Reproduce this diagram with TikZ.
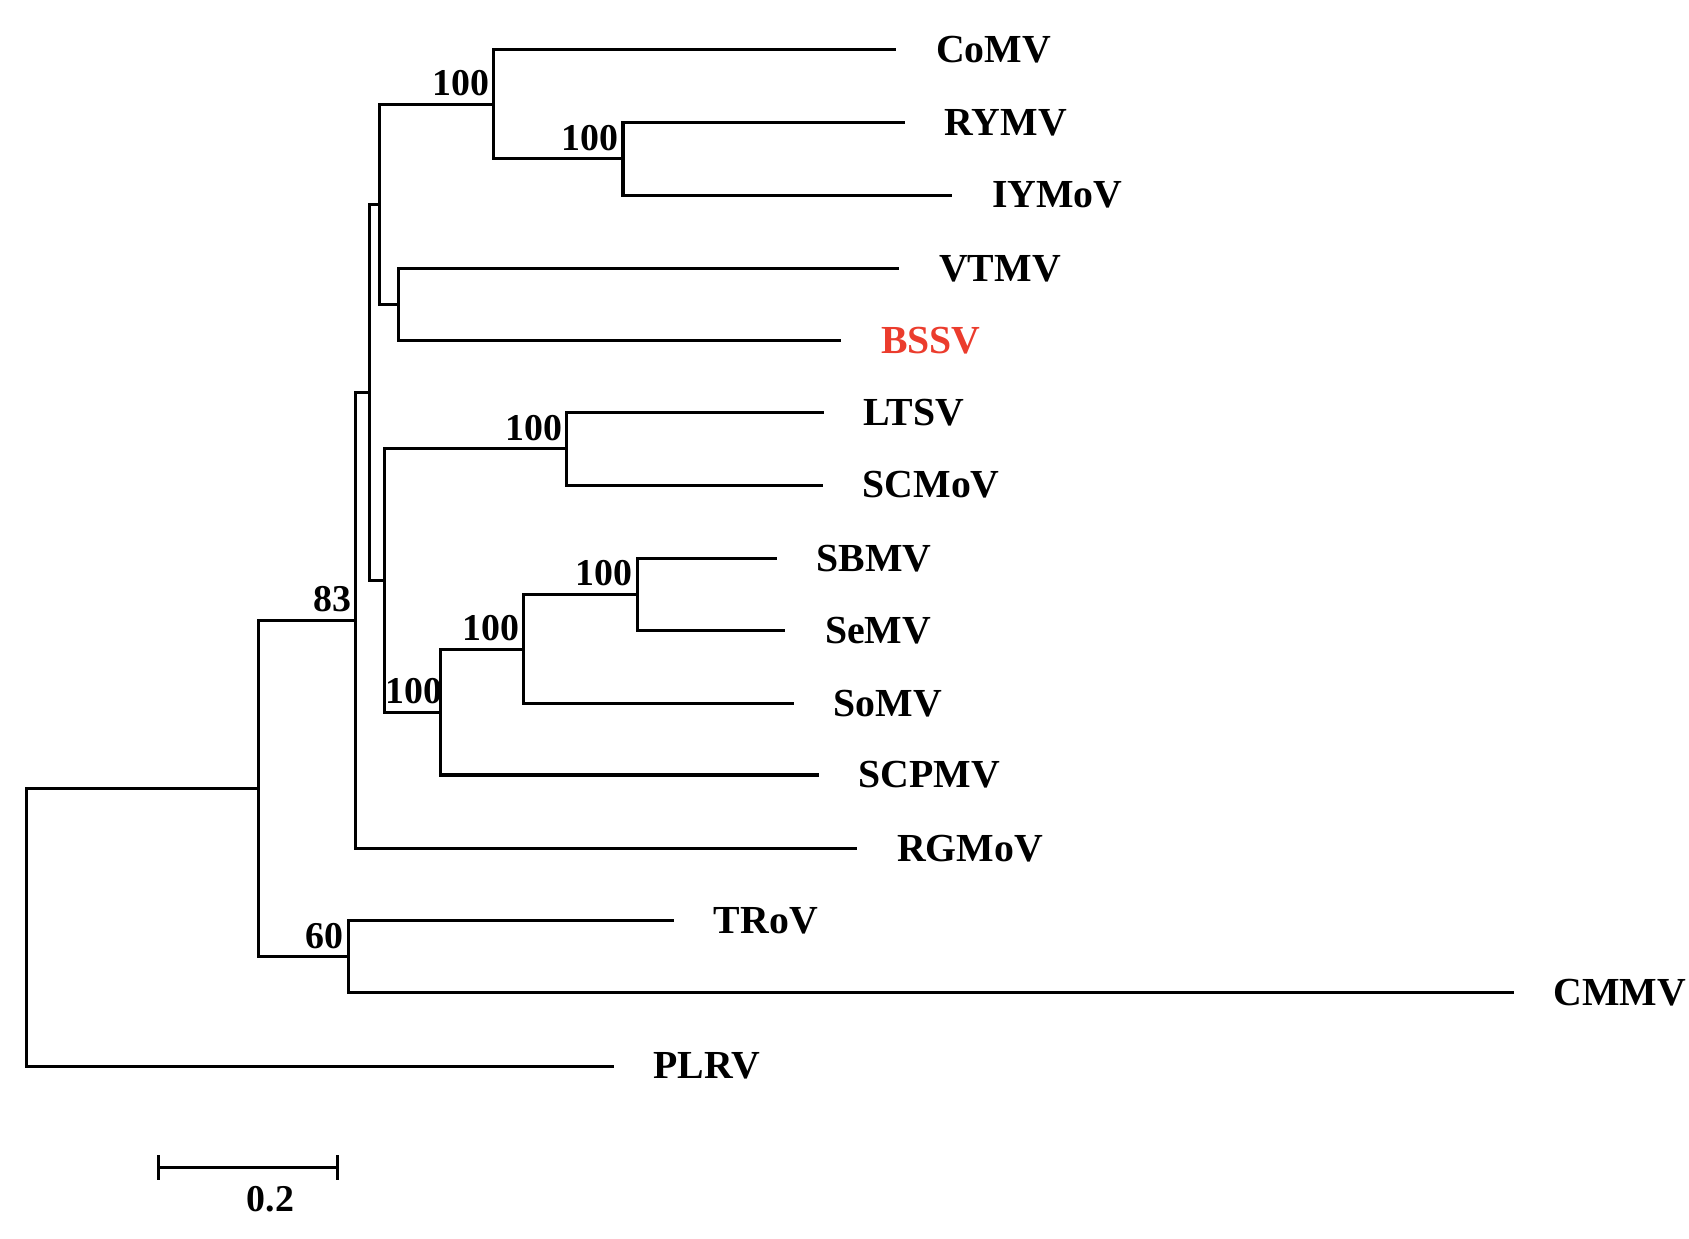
\documentclass[tikz,border=0pt]{standalone}
\usepackage{fontspec}
\setmainfont{Liberation Serif}
\begin{document}
\begin{tikzpicture}[x=0.02cm,y=-0.02cm,line width=1.6pt,line cap=rect,
  leaf/.style={anchor=west,inner sep=0pt,font=\fontsize{21}{24}\selectfont\bfseries,xshift=0.74cm},
  boot/.style={anchor=south east,inner sep=1.5pt,yshift=2pt,font=\fontsize{20}{23}\selectfont\bfseries}]
\useasboundingbox (0,0) rectangle (1567,1149);
% leaves
\coordinate (CoMV) at (830,46);
\coordinate (RYMV) at (838,114);
\coordinate (IYMoV) at (882,181);
\coordinate (VTMV) at (833,249);
\coordinate (BSSV) at (779,316);
\coordinate (LTSV) at (763,383);
\coordinate (SCMoV) at (762,450);
\coordinate (SBMV) at (719,518);
\coordinate (SeMV) at (727,585);
\coordinate (SoMV) at (735,653);
\coordinate (SCPMV) at (758,719);
\coordinate (RGMoV) at (794,787);
\coordinate (TRoV) at (624,854);
\coordinate (CMMV) at (1403,921);
\coordinate (PLRV) at (568,989);
% internal
\coordinate (nry) at (578,147.5);
\coordinate (nco) at (458,96.75);
\coordinate (nvb) at (370,282.5);
\coordinate (ncv) at (352,189.6);
\coordinate (nsb) at (591,551.5);
\coordinate (nss) at (486,602.2);
\coordinate (nsc) at (409,660.6);
\coordinate (nlt) at (526,416.5);
\coordinate (nls) at (357,538.5);
\coordinate (na) at (343,364);
\coordinate (nb) at (330,575.5);
\coordinate (ntc) at (323,887.5);
\coordinate (nc) at (240,731.5);
\coordinate (root) at (25,860);
\foreach \p/\c in {nry/RYMV,nry/IYMoV,nco/CoMV,nco/nry,nvb/VTMV,nvb/BSSV,ncv/nco,ncv/nvb,
  nsb/SBMV,nsb/SeMV,nss/nsb,nss/SoMV,nsc/nss,nsc/SCPMV,nlt/LTSV,nlt/SCMoV,nls/nlt,nls/nsc,
  na/ncv,na/nls,nb/na,nb/RGMoV,ntc/TRoV,ntc/CMMV,nc/nb,nc/ntc,root/nc,root/PLRV}
  \draw (\p) |- (\c);
% labels
\foreach \n in {CoMV,RYMV,IYMoV,VTMV,LTSV,SCMoV,SBMV,SeMV,SoMV,SCPMV,RGMoV,TRoV,CMMV,PLRV}
  \node[leaf] (L\n) at (\n) {\n};
\node[leaf,text={rgb,255:red,235;green,60;blue,45}] (LBSSV) at (BSSV) {BSSV};
\node[boot] (b1) at (nco) {100};
\node[boot] (b2) at (nry) {100};
\node[boot] (b3) at (nlt) {100};
\node[boot] (b4) at (nsb) {100};
\node[boot] (b5) at (nss) {100};
\node[boot,xshift=3pt] (b6) at (nsc) {100};
\node[boot] (b7) at (nb) {83};
\node[boot] (b8) at (ntc) {60};
% scale bar
\coordinate (s1) at (147,1083);
\coordinate (s2) at (313,1083);
\draw (s1) -- (s2);
\draw ([yshift=-10*0.02cm]s1) -- ([yshift=10*0.02cm]s1);
\draw ([yshift=-10*0.02cm]s2) -- ([yshift=10*0.02cm]s2);
\node[font=\fontsize{20}{23}\selectfont\bfseries] (sl) at (251,1113) {0.2};
\end{tikzpicture}
\end{document}
